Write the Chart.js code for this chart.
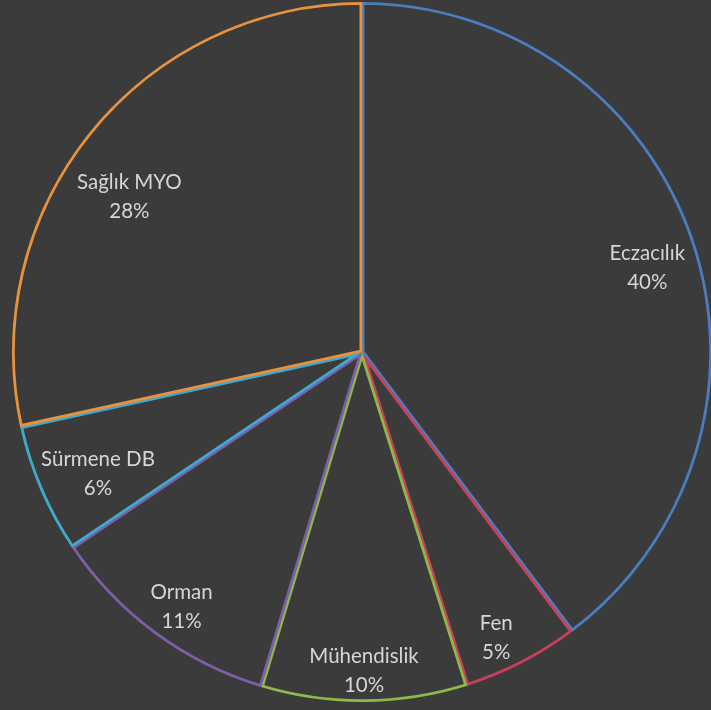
<!DOCTYPE html>
<html>
<head>
<meta charset="utf-8">
<script src="https://cdn.jsdelivr.net/npm/chart.js@4/dist/chart.umd.min.js"></script>
<style>
  html, body { margin: 0; padding: 0; background: #3b3b3b; overflow: hidden; }
  #wrap { width: 724px; height: 710px; }
</style>
</head>
<body>
<div id="wrap"><canvas id="pie_chart" width="724" height="710"></canvas></div>
<script>
// data (shares in %)
var categories = ['Eczacılık', 'Fen', 'Mühendislik', 'Orman', 'Sürmene DB', 'Sağlık MYO'];
var shares = [39.7, 5.4, 9.5, 10.9, 6.0, 28.4];
var sliceColors = ['#4a7ec0', '#c8405c', '#8fb84a', '#7d5fa8', '#3fa9cf', '#e8923e'];

// label placement: [angle shift in degrees, radius fraction]
var labelSpots = [[2, 0.85], [2, 0.9], [0, 0.91], [-1, 0.89], [-1.5, 0.83], [-5, 0.8]];

var pieLabels = {
    id: 'pieLabels',
    afterDatasetsDraw: function (chart) {
        var ctx = chart.ctx;
        var meta = chart.getDatasetMeta(0);
        var total = shares.reduce(function (a, b) { return a + b; }, 0);
        ctx.save();
        ctx.fillStyle = '#d6d6d6';
        ctx.font = '20.5px Lato, sans-serif';
        ctx.textAlign = 'center';
        ctx.textBaseline = 'middle';
        meta.data.forEach(function (arc, i) {
            var p = arc.getProps(['x', 'y', 'startAngle', 'endAngle', 'outerRadius'], true);
            var a = (p.startAngle + p.endAngle) / 2 + labelSpots[i][0] * Math.PI / 180;
            var r = p.outerRadius * labelSpots[i][1];
            var x = p.x + Math.cos(a) * r;
            var y = p.y + Math.sin(a) * r;
            ctx.fillText(categories[i], x, y - 14);
            ctx.fillText(Math.round(shares[i] / total * 100) + '%', x, y + 15);
        });
        ctx.restore();
    }
};

var chart = new Chart(document.getElementById('pie_chart').getContext('2d'), {
    type: 'pie',
    data: {
        labels: categories,
        datasets: [{
            data: shares,
            backgroundColor: 'rgba(0,0,0,0)',
            borderColor: sliceColors,
            borderWidth: 2.5,
            borderAlign: 'inner'
        }]
    },
    options: {
        responsive: false,
        animation: false,
        events: [],
        layout: { padding: { left: 12, right: 12, top: 2, bottom: 8 } },
        plugins: {
            legend: { display: false },
            tooltip: { enabled: false }
        }
    },
    plugins: [pieLabels]
});
</script>
</body>
</html>
